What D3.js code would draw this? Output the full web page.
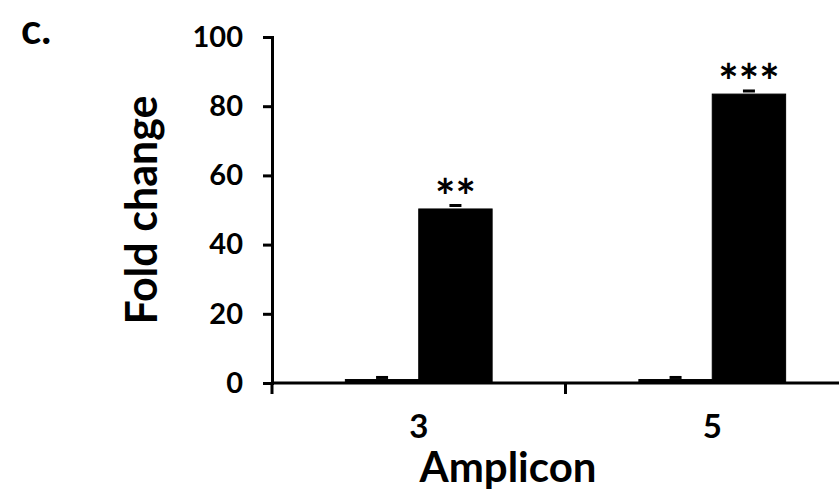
<!DOCTYPE html>
<html>
<head>
<meta charset="utf-8">
<script src="https://cdn.jsdelivr.net/npm/d3@7"></script>
<style>
  body { margin: 0; background: #fff; }
  text { font-family: Lato, "Open Sans", sans-serif; font-weight: bold; fill: #000; }
</style>
</head>
<body>
<svg id="chart" width="839" height="491"></svg>
<script>
// values
var categories = ["3", "5"];
var series = ["control", "treated"];
var controlValues = [1.0, 1.0];
var controlErrors = [0.6, 0.6];
var treatedValues = [50.3, 83.5];
var treatedErrors = [1.0, 0.9];
var stars = ["**", "***"];
var yTicks = [0, 20, 40, 60, 80, 100];

var svg = d3.select("#chart");
var plotLeft = 272, plotTop = 37, plotBottom = 383;
var bandW = 293.5;

var x = d3.scaleBand()
	.domain(categories)
	.range([plotLeft, plotLeft + bandW * categories.length])
	.paddingInner(0.5)
	.paddingOuter(0.25);

var xSub = d3.scaleBand()
	.domain(series)
	.range([0, x.bandwidth()]);

var y = d3.scaleLinear().domain([0, 100]).range([plotBottom, plotTop]);

// y axis
var yAxis = svg.append("g")
	.attr("transform", "translate(" + plotLeft + ",0)")
	.call(d3.axisLeft(y).tickValues(yTicks).tickSize(9).tickPadding(20));
yAxis.select(".domain").attr("stroke-width", 3);
yAxis.selectAll(".tick line").attr("stroke-width", 3);
yAxis.selectAll(".tick text").style("font-size", "29px");

// bars
var groups = svg.selectAll(".grp")
	.data(categories)
	.enter().append("g")
	.attr("transform", function(d){ return "translate(" + x(d) + ",0)"; });

var rows = [
	{ key: "control", vals: controlValues, errs: controlErrors },
	{ key: "treated", vals: treatedValues, errs: treatedErrors }
];

rows.forEach(function(r){
	groups.append("rect")
		.attr("x", xSub(r.key))
		.attr("width", xSub.bandwidth())
		.attr("y", function(d, i){ return y(r.vals[i]); })
		.attr("height", function(d, i){ return plotBottom - y(r.vals[i]); })
		.attr("fill", "#000")
		.attr("stroke", "#000")
		.attr("stroke-width", 1);
	groups.append("line")
		.attr("x1", xSub(r.key) + xSub.bandwidth() / 2 - 6)
		.attr("x2", xSub(r.key) + xSub.bandwidth() / 2 + 6)
		.attr("y1", function(d, i){ return y(r.vals[i] + r.errs[i]); })
		.attr("y2", function(d, i){ return y(r.vals[i] + r.errs[i]); })
		.attr("stroke", "#000")
		.attr("stroke-width", 3);
});

groups.append("text")
	.attr("x", xSub("treated") + xSub.bandwidth() / 2)
	.attr("y", function(d, i){ return y(treatedValues[i] + treatedErrors[i]) + 8; })
	.attr("text-anchor", "middle")
	.style("font-size", "48px")
	.text(function(d, i){ return stars[i]; });

// x axis, tick marks at band edges
var edges = [plotLeft, plotLeft + bandW, plotLeft + 2 * bandW];
svg.append("line")
	.attr("x1", plotLeft).attr("x2", 839)
	.attr("y1", plotBottom).attr("y2", plotBottom)
	.attr("stroke", "#000").attr("stroke-width", 3);
svg.selectAll(".xtick")
	.data(edges)
	.enter().append("line")
	.attr("x1", function(d){ return d; }).attr("x2", function(d){ return d; })
	.attr("y1", plotBottom).attr("y2", plotBottom + 11)
	.attr("stroke", "#000").attr("stroke-width", 3);

svg.selectAll(".xlab")
	.data(categories)
	.enter().append("text")
	.attr("x", function(d){ return x(d) + x.bandwidth() / 2; })
	.attr("y", 438)
	.attr("text-anchor", "middle")
	.style("font-size", "33px")
	.text(function(d){ return d; });

svg.append("text")
	.attr("x", 508).attr("y", 482)
	.attr("text-anchor", "middle")
	.style("font-size", "42px")
	.text("Amplicon");

svg.append("text")
	.attr("transform", "translate(157,210) rotate(-90)")
	.attr("text-anchor", "middle")
	.style("font-size", "43px")
	.text("Fold change");

svg.append("text")
	.attr("x", 21).attr("y", 44)
	.style("font-size", "42px")
	.text("c.");
</script>
</body>
</html>
